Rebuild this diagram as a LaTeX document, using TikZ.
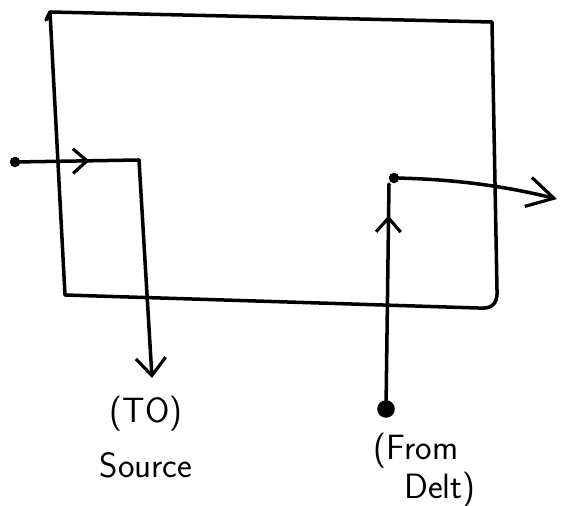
\documentclass[tikz,border=0pt]{standalone}
\usepackage{tikz}
\usetikzlibrary{decorations.markings}
\usetikzlibrary{positioning, arrows.meta}
\tikzset{
	wire/.style={line width=2pt, line cap=round, line join=round},
	wireMid/.style={wire,postaction={decorate},decoration={markings,mark=at position #1 with {\arrow{Straight Barb[length=8pt,width=14pt,line width=1.8pt]}}}},
	wireEnd/.style={wire, -{Straight Barb[length=#1,width=17pt,line width=1.8pt]}},
	pin/.style={circle, fill=black, inner sep=0pt, minimum size=#1},
	tag/.style={font=\sffamily\fontsize{20}{22}\selectfont, inner sep=0pt}
}

\begin{document}
\begin{tikzpicture}[x=0.02cm, y=-0.02cm]
\useasboundingbox (0,0) rectangle (565,506);
% box corners
\coordinate (tl) at (50,12);
\coordinate (tr) at (492,22);
\coordinate (br) at (478,308);
\coordinate (bl) at (65,295);
\draw [wire] (46,20) -- (tl) -- (tr) -- (497,290) .. controls (498,306) and (490,309) .. (br) -- (bl) -- (tl);
% input into the box and down to the source
\node [pin=6pt] (inDot) at (15,162) {};
\coordinate (inBend) at (139,160);
\coordinate (toSource) at (152,378);
\draw [wireMid=.6] (inDot.center) -- (inBend);
\draw [wireEnd=10pt] (inBend) -- (toSource);
% coming up from the delt and going out
\node [pin=10pt] (fromBlob) at (386,409) {};
\coordinate (upTop) at (389,184);
\draw [wireMid=.86] (fromBlob.center) -- (upTop);
\node [pin=6pt] (outDot) at (394,178) {};
\coordinate (outEnd) at (557,199);
\draw [wireEnd=15pt] (outDot.center) .. controls (450,179) and (500,185) .. (outEnd);
% labels
\node [tag] (toLbl) at (146,414) {(TO)};
\node [tag] (srcLbl) at (146,465) {Source};
\node [tag] (fromLbl) at (416,451) {(From};
\node [tag] (deltLbl) at (440,490) {Delt)};
\end{tikzpicture}
\end{document}
